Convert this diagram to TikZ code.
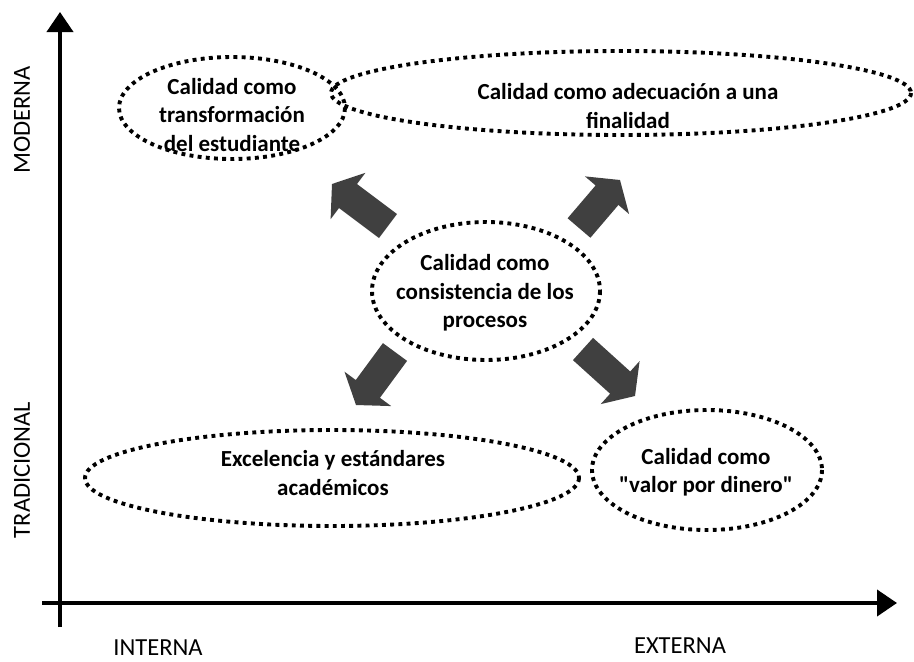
\documentclass[tikz,border=0pt]{standalone}
\usepackage{fontspec}
\setmainfont{Carlito}
\usetikzlibrary{arrows.meta,calc}
\definecolor{arrowgray}{HTML}{404040}
\tikzset{
  axisline/.style={line width=4pt,-{Triangle[length=20pt,width=26pt]}},
  dotted ellipse/.style={draw=black,line width=3.9pt,dash pattern=on 3.9pt off 4.3pt},
  boxtext/.style={align=center,inner sep=0pt,font=\bfseries\fontsize{23}{28.5}\selectfont},
  axislabel/.style={inner sep=0pt,font=\fontsize{24.5}{28}\selectfont},
  blockarrow/.style={fill=arrowgray}
}
\newcommand\blockarr[2]{%
  \path coordinate (bb) at ($(#2)!20pt!(#1)$);
  \fill[blockarrow] ($(#1)!15pt!90:(#2)$) -- ($(bb)!15pt!-90:(#1)$) -- ($(bb)!29pt!-90:(#1)$)
     -- (#2) -- ($(bb)!29pt!90:(#1)$) -- ($(bb)!15pt!90:(#1)$) -- ($(#1)!15pt!-90:(#2)$) -- cycle;
}
\begin{document}
\begin{tikzpicture}[x=1pt,y=-1pt]
\useasboundingbox (0,0) rectangle (914,662);
% axes
\coordinate (ybot) at (60,627);
\coordinate (ytop) at (60,12);
\coordinate (xleft) at (42,603);
\coordinate (xright) at (897,603);
\draw[axisline] (ybot) -- (ytop);
\draw[axisline] (xleft) -- (xright);
% axis labels
\node[axislabel,rotate=90] (moderna) at (22,120) {MODERNA};
\node[axislabel,rotate=90] (tradicional) at (22,470) {TRADICIONAL};
\node[axislabel] (interna) at (158,648) {INTERNA};
\node[axislabel] (externa) at (680,646) {EXTERNA};
% ellipses
\coordinate (e1) at (232,108);
\coordinate (e2) at (621,93);
\coordinate (e3) at (486,291);
\coordinate (e4) at (332,478);
\coordinate (e5) at (707,470);
\draw[dotted ellipse] (e1) ellipse [x radius=113, y radius=51];
\draw[dotted ellipse] (e2) ellipse [x radius=290, y radius=42];
\draw[dotted ellipse] (e3) ellipse [x radius=114, y radius=69];
\draw[dotted ellipse] (e4) ellipse [x radius=247, y radius=48];
\draw[dotted ellipse] (e5) ellipse [x radius=115, y radius=60];
% texts
\node[boxtext] (t1) at (232,115) {Calidad como\\transformación\\del estudiante};
\node[boxtext] (t2) at (628,106) {Calidad como adecuación a una\\finalidad};
\node[boxtext] (t3) at (485,293) {Calidad como\\consistencia de los\\procesos};
\node[boxtext] (t4) at (333,473) {Excelencia y estándares\\académicos};
\node[boxtext] (t5) at (706,472) {Calidad como\\\textquotedbl valor por dinero\textquotedbl};
% block arrows
\coordinate (ulT) at (388,226); \coordinate (ulP) at (332,184);
\coordinate (urT) at (579,228); \coordinate (urP) at (620,180);
\coordinate (llT) at (395,352); \coordinate (llP) at (356,405);
\coordinate (lrT) at (583,349); \coordinate (lrP) at (635,396);
\blockarr{ulT}{ulP}
\blockarr{urT}{urP}
\blockarr{llT}{llP}
\blockarr{lrT}{lrP}
\end{tikzpicture}
\end{document}
